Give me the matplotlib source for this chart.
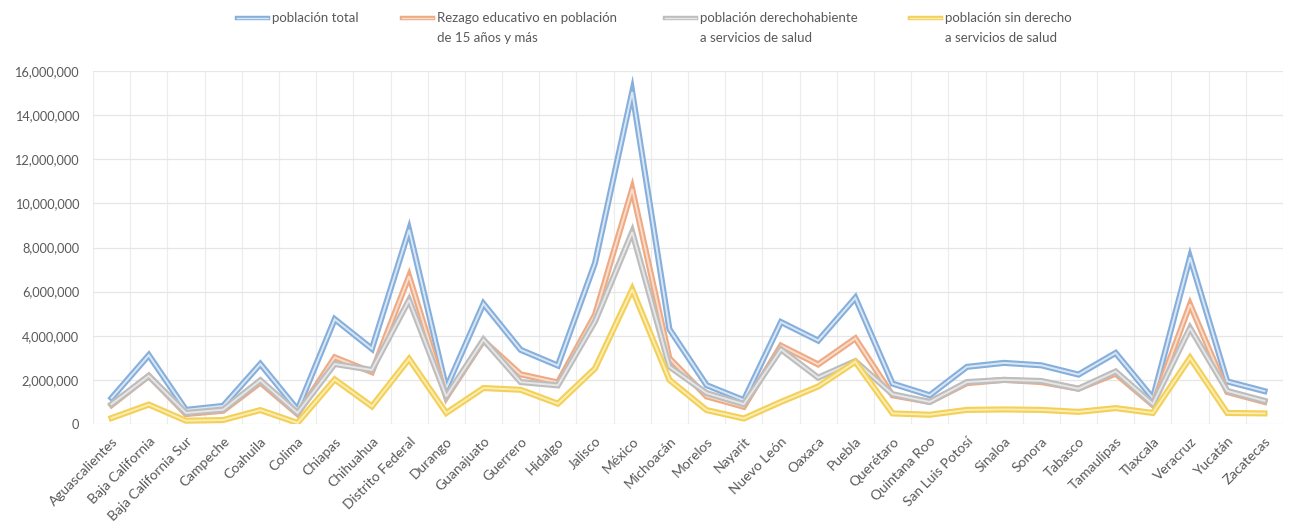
import numpy as np
import matplotlib
matplotlib.use("Agg")
import matplotlib.pyplot as plt
from matplotlib.lines import Line2D
from matplotlib.ticker import FuncFormatter, MultipleLocator

plt.rcParams['font.family'] = ['Lato', 'DejaVu Sans']

states = ["Aguascalientes", "Baja California", "Baja California Sur", "Campeche",
          "Coahuila", "Colima", "Chiapas", "Chihuahua", "Distrito Federal", "Durango",
          "Guanajuato", "Guerrero", "Hidalgo", "Jalisco", "México", "Michoacán",
          "Morelos", "Nayarit", "Nuevo León", "Oaxaca", "Puebla", "Querétaro",
          "Quintana Roo", "San Luis Potosí", "Sinaloa", "Sonora", "Tabasco",
          "Tamaulipas", "Tlaxcala", "Veracruz", "Yucatán", "Zacatecas"]

# millions of people
poblacion_total = [1.18, 3.12, 0.64, 0.82, 2.72, 0.65, 4.75, 3.41, 8.80, 1.63,
                   5.45, 3.36, 2.65, 7.30, 15.05, 4.30, 1.76, 1.08, 4.62, 3.78,
                   5.72, 1.83, 1.30, 2.59, 2.77, 2.66, 2.24, 3.22, 1.17, 7.55,
                   1.93, 1.49]
rezago = [0.86, 2.18, 0.45, 0.60, 1.88, 0.45, 3.02, 2.35, 6.70, 1.20,
          3.78, 2.25, 1.88, 4.95, 10.65, 2.98, 1.25, 0.78, 3.55, 2.70,
          3.88, 1.30, 1.00, 1.85, 2.00, 1.90, 1.60, 2.28, 0.86, 5.42,
          1.45, 1.00]
derechohabiente = [0.90, 2.18, 0.50, 0.65, 1.98, 0.50, 2.72, 2.45, 5.62, 1.25,
                   3.82, 1.90, 1.75, 4.65, 8.70, 2.60, 1.40, 0.90, 3.38, 2.10,
                   2.85, 1.35, 1.00, 1.90, 2.00, 1.95, 1.60, 2.38, 0.90, 4.35,
                   1.50, 1.05]
sin_derecho = [0.27, 0.88, 0.15, 0.18, 0.63, 0.05, 2.02, 0.80, 2.95, 0.50,
               1.63, 1.55, 0.92, 2.52, 6.10, 2.00, 0.63, 0.25, 1.00, 1.70,
               2.82, 0.48, 0.42, 0.64, 0.66, 0.64, 0.55, 0.72, 0.50, 3.00,
               0.50, 0.48]

labels = [["población total"],
          ["Rezago educativo en población", "de 15 años y más"],
          ["población derechohabiente", "a servicios de salud"],
          ["población sin derecho", "a servicios de salud"]]
series = [poblacion_total, rezago, derechohabiente, sin_derecho]
# (outer, inner) colours give the double-line look
colors = [("#86afdc", "#d9e7f5"),
          ("#eeaa84", "#f9ddcb"),
          ("#bdbdbd", "#e6e6e6"),
          ("#f3d058", "#fcedb3")]
text_color = "#595959"

W, H = 1291, 524
fig = plt.figure(figsize=(W / 100, H / 100), dpi=100)
ax = fig.add_axes([93 / W, 1 - 424 / H, (1283 - 93) / W, (424 - 71) / H])

x = np.arange(len(states))
for vals, (outer, inner) in zip(series, colors):
    y = np.array(vals) * 1e6
    ax.plot(x, y, color=outer, lw=4.4, solid_joinstyle='miter', zorder=3)
    ax.plot(x, y, color=inner, lw=1.4, solid_joinstyle='miter', zorder=3)

ax.set_xlim(-0.5, len(states) - 0.5)
ax.set_ylim(0, 16e6)
ax.yaxis.set_major_locator(MultipleLocator(2e6))
ax.yaxis.set_major_formatter(FuncFormatter(lambda v, p: f"{int(v):,}"))
ax.grid(axis='y', color="#e6e6e6", lw=0.9, zorder=0)
for b in np.arange(-0.5, len(states), 1.0):
    ax.axvline(b, color="#ececec", lw=0.8, zorder=0)

ax.set_xticks(x)
ax.set_xticklabels(states, rotation=45, ha='right', rotation_mode='anchor',
                   fontsize=10)
ax.tick_params(axis='both', length=0, colors=text_color)
ax.tick_params(axis='y', pad=10, labelsize=9.2)
ax.tick_params(axis='x', pad=8)
for s in ax.spines.values():
    s.set_visible(False)

# legend drawn across the top
handle_x = [237, 402, 665, 910]
for hx, lab, (outer, inner) in zip(handle_x, labels, colors):
    yy = 1 - 18 / H
    fig.add_artist(Line2D([hx / W, (hx + 31) / W], [yy, yy], color=outer, lw=3.2))
    fig.add_artist(Line2D([hx / W, (hx + 31) / W], [yy, yy], color=inner, lw=1.0))
    for i, line in enumerate(lab):
        fig.text((hx + 35) / W, 1 - (18 + 20 * i) / H, line, fontsize=9.5,
                 color=text_color, va='center', ha='left')

fig.savefig("out.png", dpi=100, facecolor='white')
